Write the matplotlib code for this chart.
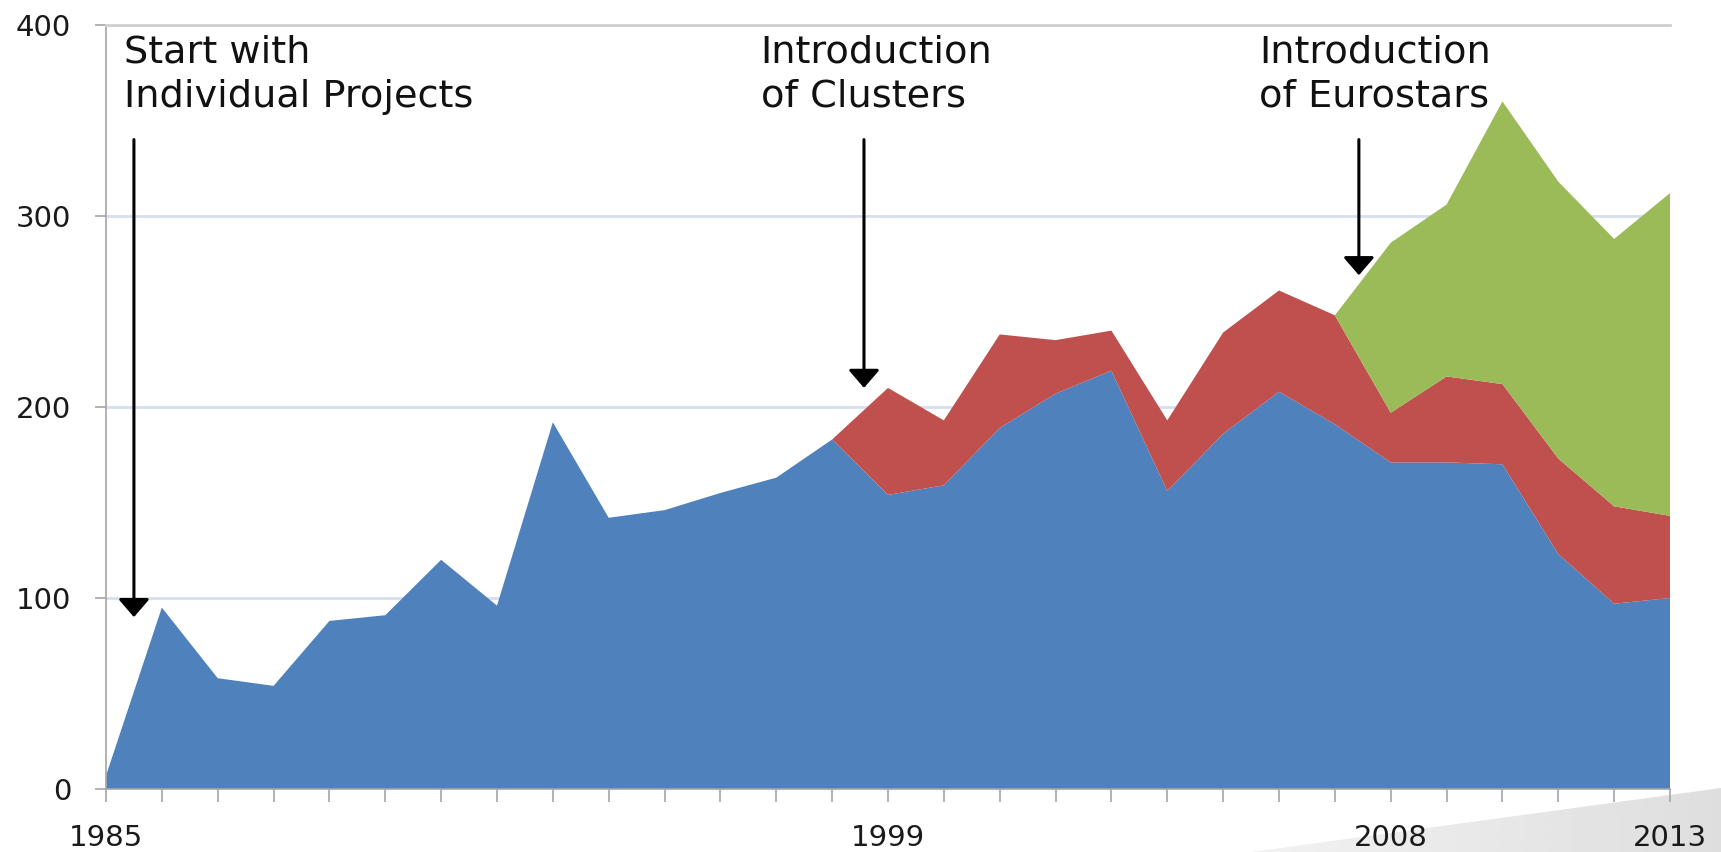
import matplotlib
matplotlib.use("Agg")
import matplotlib.pyplot as plt
import numpy as np
from matplotlib.patches import Polygon
from matplotlib.ticker import FixedLocator, MultipleLocator

# Number of projects per year, stacked by programme type
years = list(range(1985, 2014))
individual = [7, 95, 58, 54, 88, 91, 120, 96, 192, 142, 146, 155, 163, 183, 154,
              159, 189, 207, 219, 156, 186, 208, 191, 171, 171, 170, 123, 97, 100]
clusters = [0] * 14 + [56, 34, 49, 28, 21, 37, 53, 53, 57, 26, 45, 42, 50, 51, 43]
eurostars = [0] * 23 + [89, 90, 148, 145, 140, 169]

year_labels = [1985, 1999, 2008, 2013]
y_ticks = [0, 100, 200, 300, 400]

notes = ["Start with\nIndividual Projects",
         "Introduction\nof Clusters",
         "Introduction\nof Eurostars"]
note_year = [1985.32, 1996.72, 2005.64]
arrow_year = [1985.5, 1998.57, 2007.43]
arrow_tip = [90, 210, 269]

colors = ["#4F81BD", "#C0504D", "#9BBB59"]
axis_grey = "#A6A6A6"

plt.rcParams["xtick.labelsize"] = 21
plt.rcParams["ytick.labelsize"] = 21


def main():
    fig = plt.figure(figsize=(17.21, 8.52), dpi=100)

    # grey slide shadow in the bottom right corner, lighter towards the left
    bg = fig.add_axes([0, 0, 1, 1], zorder=0)
    bg.set_xlim(0, 1721)
    bg.set_ylim(0, 852)
    bg.axis("off")
    shade = np.linspace(0.95, 0.87, 200).reshape(1, -1)
    img = bg.imshow(shade, cmap="gray", vmin=0, vmax=1, aspect="auto",
                    extent=(1240, 1721, 0, 70))
    wedge = Polygon([(1251, 0), (1721, 64), (1721, 0)], closed=True,
                    facecolor="none", edgecolor="none", transform=bg.transData)
    bg.add_patch(wedge)
    img.set_clip_path(wedge)

    ax = fig.add_axes([106 / 1721, 63 / 852, 1564 / 1721, 764 / 852])
    ax.set_zorder(2)
    ax.patch.set_alpha(0)

    ax.stackplot(years, individual, clusters, eurostars, colors=colors,
                 linewidth=0, zorder=2)

    ax.set_xlim(1985, 2013)
    ax.set_ylim(0, 400)

    # axes styling
    ax.spines["right"].set_visible(False)
    for side in ["left", "bottom"]:
        ax.spines[side].set_color(axis_grey)
        ax.spines[side].set_linewidth(1.2)
    ax.spines["top"].set_color("#D0D0D0")
    ax.spines["top"].set_linewidth(2)

    ax.set_axisbelow(True)
    ax.yaxis.set_major_locator(FixedLocator(y_ticks))
    ax.grid(axis="y", color="#D6DFF0", linewidth=2)

    ax.xaxis.set_major_locator(FixedLocator(year_labels))
    ax.xaxis.set_minor_locator(MultipleLocator(1))
    ax.tick_params(axis="x", which="both", direction="out", length=9,
                   width=1.2, color=axis_grey)
    ax.tick_params(axis="x", which="major", pad=16, labelcolor="#1A1A1A")
    ax.tick_params(axis="y", direction="out", length=8, width=1.2,
                   color=axis_grey, pad=17, labelcolor="#1A1A1A")

    # annotations
    for text, x in zip(notes, note_year):
        ax.text(x, 395, text, fontsize=27.5, va="top", ha="left",
                linespacing=1.3, color="#111111", zorder=5)
    for x, tip in zip(arrow_year, arrow_tip):
        ax.annotate("", xy=(x, tip), xytext=(x, 340),
                    arrowprops=dict(arrowstyle="-|>,head_length=1.1,head_width=0.95",
                                    mutation_scale=10, lw=2.2, color="black",
                                    shrinkA=0, shrinkB=0),
                    zorder=5)

    fig.savefig("out.png", dpi=100)


if __name__ == "__main__":
    main()
